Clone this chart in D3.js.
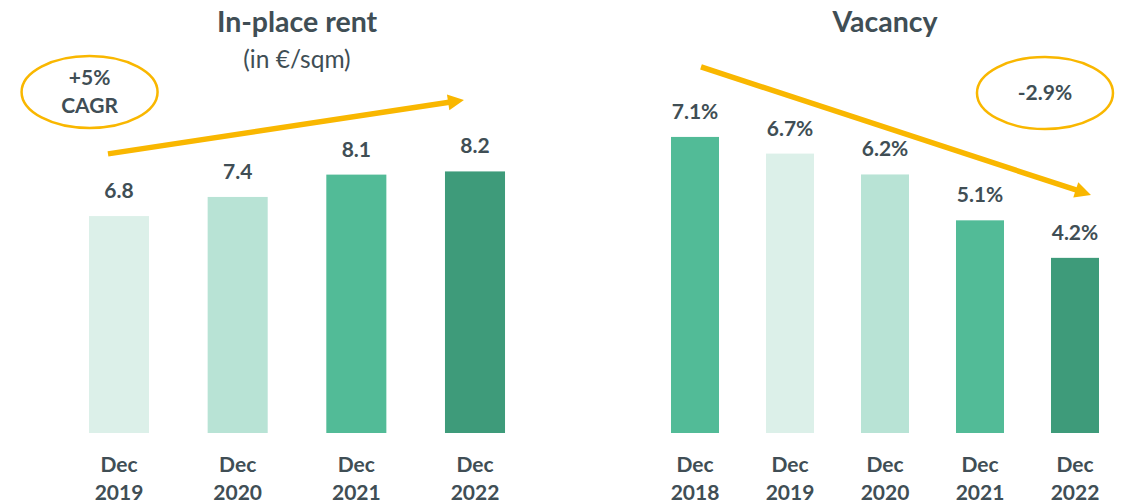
<!DOCTYPE html>
<html>
<head>
<meta charset="utf-8">
<script src="https://cdn.jsdelivr.net/npm/d3@7"></script>
<style>
  html, body { margin: 0; padding: 0; background: #fff; }
  svg { display: block; }
  text { font-family: Lato, "Open Sans", sans-serif; fill: #404e55; }
</style>
</head>
<body>
<svg id="chart" width="1130" height="504"></svg>
<script>
// ---- data ----
const rentCategories = ["Dec 2019", "Dec 2020", "Dec 2021", "Dec 2022"];
const rentValues = [6.8, 7.4, 8.1, 8.2];
const rentLabels = ["6.8", "7.4", "8.1", "8.2"];

const vacancyCategories = ["Dec 2018", "Dec 2019", "Dec 2020", "Dec 2021", "Dec 2022"];
const vacancyValues = [7.1, 6.7, 6.2, 5.1, 4.2];
const vacancyLabels = ["7.1%", "6.7%", "6.2%", "5.1%", "4.2%"];

const rentTitle = "In-place rent";
const rentSubtitle = "(in €/sqm)";
const vacancyTitle = "Vacancy";
const rentBadge = ["+5%", "CAGR"];
const vacancyBadge = ["-2.9%"];

// ---- styling ----
const C_LIGHTEST = "#dcf0e9", C_LIGHT = "#b8e3d5", C_MID = "#52bb97", C_DARK = "#3e9b7a";
const rentColors = [C_LIGHTEST, C_LIGHT, C_MID, C_DARK];
const vacancyColors = [C_MID, C_LIGHTEST, C_LIGHT, C_MID, C_DARK];
const ORANGE = "#f9b700";

const svg = d3.select("#chart");
const baseline = 433;

// scales
const xL = d3.scaleBand().domain(rentCategories).range([59.67, 534.33]).paddingInner(0.494).paddingOuter(0.247);
const yL = d3.scaleLinear().domain([0, 10]).range([baseline, baseline - 319]);
const xR = d3.scaleBand().domain(vacancyCategories).range([647.5, 1122.5]).paddingInner(0.4947).paddingOuter(0.2474);
const yR = d3.scaleLinear().domain([0, 10]).range([baseline, baseline - 417]);

function drawPanel(cats, vals, labels, colors, x, y) {
  const g = svg.append("g");
  g.selectAll("rect").data(cats).join("rect")
    .attr("x", d => x(d))
    .attr("width", x.bandwidth())
    .attr("y", (d, i) => y(vals[i]))
    .attr("height", (d, i) => baseline - y(vals[i]))
    .attr("fill", (d, i) => colors[i]);
  g.selectAll("text.val").data(cats).join("text")
    .attr("class", "val")
    .attr("x", d => x(d) + x.bandwidth() / 2)
    .attr("y", (d, i) => y(vals[i]) - 18)
    .attr("text-anchor", "middle")
    .attr("font-size", 21).attr("font-weight", 700)
    .text((d, i) => labels[i]);
  // category axis labels (two lines)
  const ax = g.selectAll("text.cat").data(cats).join("text")
    .attr("class", "cat")
    .attr("text-anchor", "middle")
    .attr("font-size", 21).attr("font-weight", 700);
  ax.each(function(d) {
    const parts = d.split(" ");
    const t = d3.select(this);
    const cx = x(d) + x.bandwidth() / 2;
    t.append("tspan").attr("x", cx).attr("y", 472).text(parts[0]);
    t.append("tspan").attr("x", cx).attr("y", 500).text(parts[1]);
  });
}

drawPanel(rentCategories, rentValues, rentLabels, rentColors, xL, yL);
drawPanel(vacancyCategories, vacancyValues, vacancyLabels, vacancyColors, xR, yR);

// titles
const leftCenter = (xL.range()[0] + xL.range()[1]) / 2;
const rightCenter = (xR.range()[0] + xR.range()[1]) / 2;
svg.append("text").attr("x", leftCenter).attr("y", 32).attr("text-anchor", "middle")
  .attr("font-size", 28.5).attr("font-weight", 700).text(rentTitle);
svg.append("text").attr("x", leftCenter).attr("y", 68).attr("text-anchor", "middle")
  .attr("font-size", 24.5).attr("font-weight", 400).text(rentSubtitle);
svg.append("text").attr("x", rightCenter).attr("y", 32).attr("text-anchor", "middle")
  .attr("font-size", 28.5).attr("font-weight", 700).text(vacancyTitle);

// continuous position along band axis (index units)
function bandPos(x, cats, i) {
  return x(cats[0]) + x.bandwidth() / 2 + i * x.step();
}

// arrows (annotation positions in index/value units)
function arrow(p0, p1) {
  const [x0, y0] = p0, [x1, y1] = p1;
  const dx = x1 - x0, dy = y1 - y0, len = Math.hypot(dx, dy);
  const ux = dx / len, uy = dy / len, nx = -uy, ny = ux;
  const headLen = 16, headHalf = 8;
  const bx = x1 - ux * headLen, by = y1 - uy * headLen;
  svg.append("line").attr("x1", x0).attr("y1", y0).attr("x2", bx + ux * 1).attr("y2", by + uy * 1)
    .attr("stroke", ORANGE).attr("stroke-width", 5.5);
  svg.append("path")
    .attr("d", `M${x1},${y1}L${bx + nx * headHalf},${by + ny * headHalf}L${bx - nx * headHalf},${by - ny * headHalf}Z`)
    .attr("fill", ORANGE);
}
const rentArrow = { from: [-0.093, 8.75], to: [2.907, 10.44] };
const vacancyArrow = { from: [0.063, 8.78], to: [4.168, 5.71] };
arrow([bandPos(xL, rentCategories, rentArrow.from[0]), yL(rentArrow.from[1])],
      [bandPos(xL, rentCategories, rentArrow.to[0]), yL(rentArrow.to[1])]);
arrow([bandPos(xR, vacancyCategories, vacancyArrow.from[0]), yR(vacancyArrow.from[1])],
      [bandPos(xR, vacancyCategories, vacancyArrow.to[0]), yR(vacancyArrow.to[1])]);

// badges
function badge(cx, cy, lines) {
  svg.append("ellipse").attr("cx", cx).attr("cy", cy).attr("rx", 68).attr("ry", 36)
    .attr("fill", "none").attr("stroke", ORANGE).attr("stroke-width", 2.5);
  const t = svg.append("text").attr("text-anchor", "middle").attr("font-size", 21).attr("font-weight", 700);
  const lh = 28;
  const start = cy + 7 - (lines.length - 1) * lh / 2;
  lines.forEach((l, i) => t.append("tspan").attr("x", cx).attr("y", start + i * lh).text(l));
}
badge(bandPos(xL, rentCategories, -0.248), 92, rentBadge);
badge(bandPos(xR, vacancyCategories, 3.684), 93, vacancyBadge);
</script>
</body>
</html>
